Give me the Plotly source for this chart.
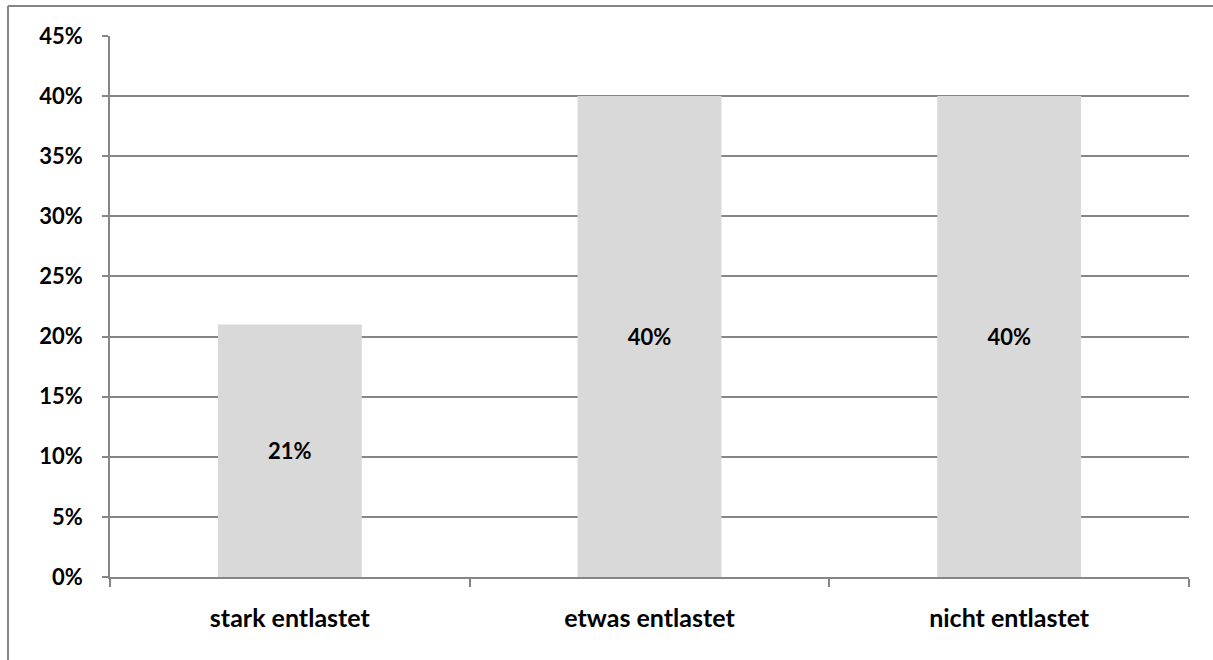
import plotly.graph_objects as go

categories = ["stark entlastet", "etwas entlastet", "nicht entlastet"]
values = [0.21, 0.40, 0.40]
value_labels = ["21%", "40%", "40%"]
y_ticks = [0, 0.05, 0.10, 0.15, 0.20, 0.25, 0.30, 0.35, 0.40, 0.45]

FONT = "Lato"
GRID = "#868686"
FS = 22
FS_CAT = 25

fig = go.Figure()
fig.add_trace(go.Bar(
    x=categories,
    y=values,
    text=value_labels,
    textposition="inside",
    insidetextanchor="middle",
    textangle=0,
    marker=dict(color="#d9d9d9", line=dict(width=0)),
    textfont=dict(family=FONT, size=FS, color="black", weight="bold"),
    width=0.4,
    hoverinfo="skip",
))

bx = (8 - 110) / 1079
by = (577 - 6) / 541
bx_right = (1213 - 110) / 1079
by_bottom = (577 - 660) / 541

fig.update_layout(
    width=1213,
    height=660,
    margin=dict(l=110, r=24, t=36, b=83),
    paper_bgcolor="white",
    plot_bgcolor="white",
    showlegend=False,
    font=dict(family=FONT, size=FS, color="black"),
    uniformtext=dict(mode=False),
    shapes=[
        dict(type="line", xref="paper", yref="paper",
             x0=bx, x1=bx_right, y0=by, y1=by,
             line=dict(color=GRID, width=2), layer="below"),
        dict(type="line", xref="paper", yref="paper",
             x0=bx, x1=bx, y0=by_bottom, y1=by,
             line=dict(color=GRID, width=2), layer="below"),
    ],
)

fig.update_xaxes(
    type="category",
    showgrid=False,
    showline=True,
    linecolor=GRID,
    linewidth=1.5,
    ticks="outside",
    tickson="boundaries",
    ticklen=8,
    tickcolor=GRID,
    tickwidth=1.5,
    tickfont=dict(family=FONT, size=FS_CAT, color="black", weight="bold"),
    ticklabelstandoff=18,
)

fig.update_yaxes(
    range=[0, 0.45],
    tickvals=y_ticks,
    tickformat=".0%",
    showgrid=True,
    gridcolor=GRID,
    gridwidth=1.5,
    showline=True,
    linecolor=GRID,
    linewidth=1.5,
    ticks="outside",
    ticklen=6,
    tickcolor=GRID,
    tickwidth=1.5,
    zeroline=False,
    tickfont=dict(family=FONT, size=FS, color="black", weight="bold"),
    ticklabelstandoff=15,
)

fig.write_html(
    "out.html",
    config={"displayModeBar": False},
    post_script=(
        "document.documentElement.style.margin='0';"
        "document.documentElement.style.overflow='hidden';"
        "document.body.style.margin='0';"
        "document.body.style.overflow='hidden';"
    ),
)
